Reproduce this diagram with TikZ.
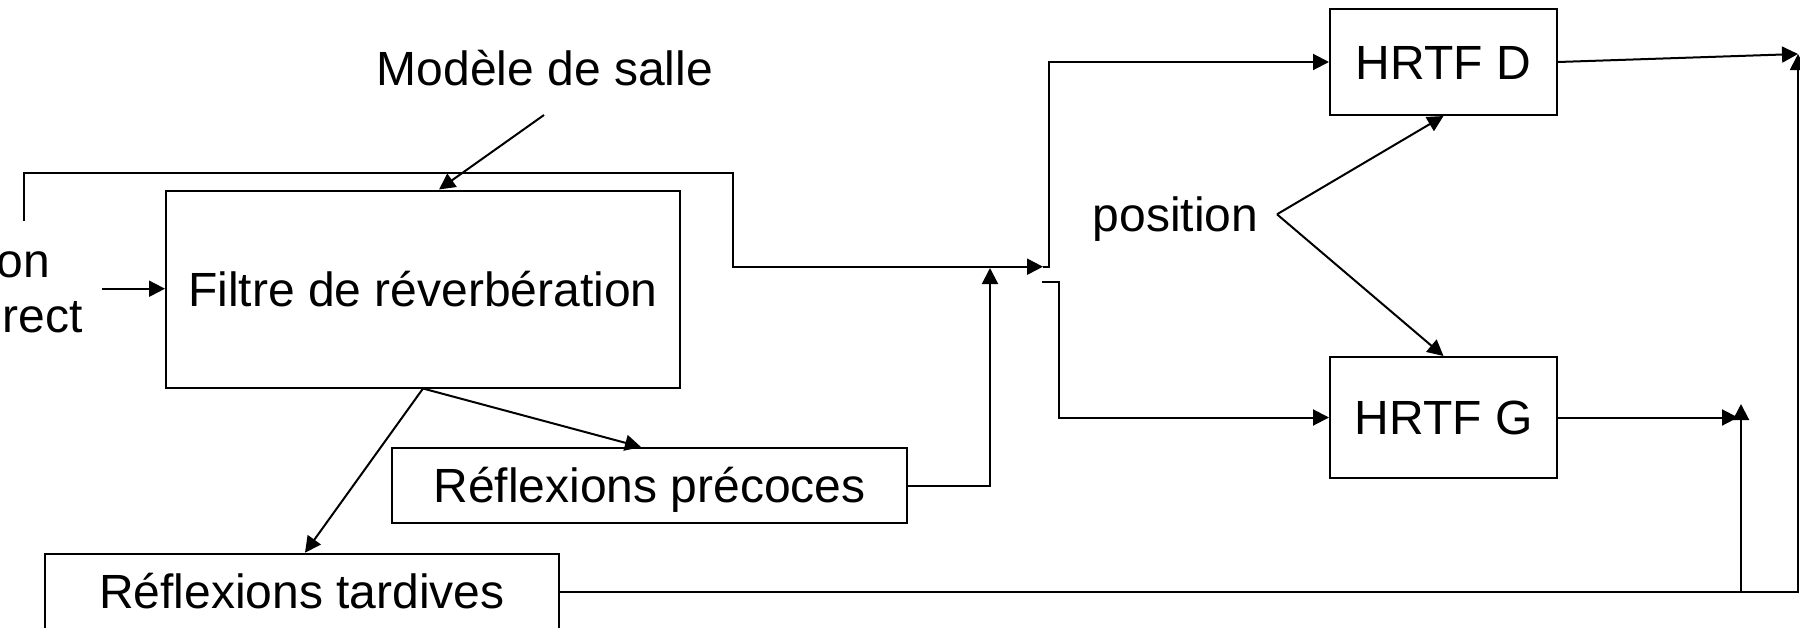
\documentclass[tikz,border=0pt]{standalone}
\usepackage{fontspec}
\setmainfont{Liberation Sans}
\usetikzlibrary{arrows.meta,calc}
\begin{document}
\begin{tikzpicture}[x=0.5pt,y=-0.5pt,
  line width=1pt,
  tip/.style={-{Triangle[length=8pt,width=8pt]}},
  blockbox/.style={draw,line width=1pt,inner sep=0pt,text height=17.2pt,text depth=0pt,
    font=\fontsize{24pt}{28.8pt}\selectfont},
  txt/.style={inner sep=0pt,font=\fontsize{24pt}{28.8pt}\selectfont}
]
\useasboundingbox (0,0) rectangle (1800,627);

% processing blocks
\node[blockbox,minimum width=257pt,minimum height=98.5pt] (filt) at (423,289) {Filtre de réverbération};
\node[blockbox,minimum width=257.5pt,minimum height=37.5pt] (prec) at (649.5,485.5) {Réflexions précoces};
\node[blockbox,minimum width=257.25pt,minimum height=38pt] (tard) at (302,591.7) {Réflexions tardives};
\node[blockbox,minimum width=113.5pt,minimum height=53pt] (hrtfD) at (1443.5,62) {HRTF D};
\node[blockbox,minimum width=113.5pt,minimum height=60.5pt] (hrtfG) at (1443.5,417.5) {HRTF G};

% free labels
\node[txt,anchor=base] (salle) at (545,85) {Modèle de salle};
\node[txt,anchor=base] (pos) at (1175.5,231) {position};
\node[txt,anchor=base east] (srcA) at (51,277) {on};
\node[txt,anchor=base east] (srcB) at (84,332) {rect};

% connector end points
\coordinate (srcin) at (102,288.7);
\coordinate (fbstart) at (24,221);
\coordinate (fbturn) at (733,172.7);
\coordinate (fbend) at (1043,266.7);
\coordinate (precup) at (990,268);
\coordinate (lowstart) at (1042,281.7);
\coordinate (salleout) at (544,115);
\coordinate (posapex) at (1277,214.3);
\coordinate (outR) at (1798,54);
\coordinate (gin) at (1738,417.5);
\coordinate (gjoin) at (1741,404);

% input and room model
\draw[tip] (srcin) -- (srcin -| filt.west);
\draw[tip] (salleout) -- ($(filt.north)+(16,0)$);

% direct path around the reverberation filter
\draw[tip] (fbstart) |- (fbturn) |- (fbend);

% reverberation outputs
\draw[tip] (filt.south) -- ($(prec.north)+(-8.5,0)$);
\draw[tip] (filt.south) -- ($(tard.north)+(3,0)$);
\draw[tip] (prec.east) -| (precup);

% split towards the two HRTFs
\draw[tip] (fbend) -- ++(6,0) |- (hrtfD.west);
\draw[tip] (lowstart) -- ++(16.5,0) |- (hrtfG.west);

% position control
\draw[tip] (posapex) -- (hrtfD.south);
\draw[tip] (posapex) -- (hrtfG.north);

% outputs
\draw[tip] (hrtfD.east) -- (outR);
\draw[tip] (hrtfG.east) -- (gin);
\draw[tip] (tard.east) -| (outR);
\draw[tip] (tard.east -| gjoin) -- (gjoin);
\end{tikzpicture}
\end{document}
